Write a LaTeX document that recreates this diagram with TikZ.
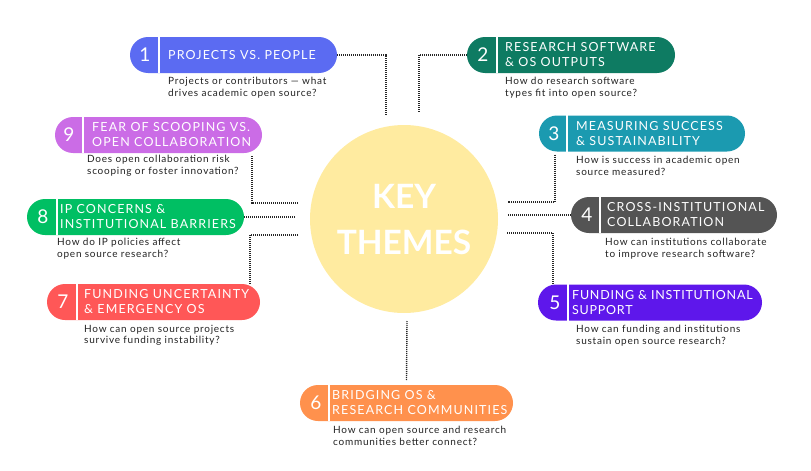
\documentclass[tikz,border=0pt]{standalone}
\usepackage{fontspec}
\setmainfont{Lato}
\newfontfamily\ttlfont[LetterSpace=9]{Lato}
\newfontfamily\ttlfontnarrow[LetterSpace=6]{Lato}
\newfontfamily\subfont[LetterSpace=7.5]{Lato}
\usetikzlibrary{calc}
\definecolor{cA}{HTML}{5B6BF2}
\definecolor{cB}{HTML}{0E7B62}
\definecolor{cC}{HTML}{1B9AB0}
\definecolor{cD}{HTML}{545454}
\definecolor{cE}{HTML}{5E17EB}
\definecolor{cF}{HTML}{FF914D}
\definecolor{cG}{HTML}{FF5757}
\definecolor{cH}{HTML}{00BF63}
\definecolor{cI}{HTML}{CB6CE6}
\definecolor{circ}{HTML}{FFEBA0}
\definecolor{subtxt}{HTML}{222222}
\tikzset{
  pill/.style={rectangle, rounded corners=18pt, minimum height=36pt, inner sep=0pt, draw=none},
  divider/.style={white, line width=1.6pt},
  num/.style={text=white, font=\fontsize{19}{19}\selectfont, inner sep=0pt},
  ttl/.style={text=white, font=\ttlfont\fontsize{12.5}{15}\selectfont, align=left, inner sep=0pt, anchor=west},
  ttlnarrow/.style={ttl, font=\ttlfontnarrow\fontsize{12.5}{15}\selectfont},
  sub/.style={text=subtxt, font=\subfont\fontsize{10}{11.5}\selectfont, align=left, inner sep=0pt, anchor=north west},
  conn/.style={line width=1.4pt, dash pattern=on 1pt off 1pt, black!85},
}
\begin{document}
\begin{tikzpicture}[x=1pt,y=-1pt]
\useasboundingbox (0,0) rectangle (811,471);
% centre
\node[circle, fill=circ, minimum size=188pt, inner sep=0pt] (hub) at (404,219) {};
\node[text=white, font=\bfseries\fontsize{33.5}{46}\selectfont, align=center] (hubtxt) at (404,220) {KEY\\THEMES};

% 1
\node[pill, fill=cA, minimum width=207pt] (p1) at (233.5,55) {};
\draw[divider] ([xshift=29pt]p1.north west) -- ([xshift=29pt]p1.south west);
\node[num] (n1) at ($(p1.west)+(15,0)$) {1};
\node[ttl] (t1) at (168,55) {PROJECTS VS. PEOPLE};
\node[sub] (s1) at (168,77) {Projects or contributors — what\\drives academic open source?};
% 2
\node[pill, fill=cB, minimum width=208pt] (p2) at (571,55) {};
\draw[divider] ([xshift=30pt]p2.north west) -- ([xshift=30pt]p2.south west);
\node[num] (n2) at ($(p2.west)+(16,0)$) {2};
\node[ttl] (t2) at (505,55) {RESEARCH SOFTWARE\\\& OS OUTPUTS};
\node[sub] (s2) at (505,77) {How do research software\\types fit into open source?};
% 9
\node[pill, fill=cI, minimum width=207pt] (p9) at (158.5,135) {};
\draw[divider] ([xshift=28pt]p9.north west) -- ([xshift=28pt]p9.south west);
\node[num] (n9) at ($(p9.west)+(14,0)$) {9};
\node[ttl] (t9) at (92,135) {FEAR OF SCOOPING VS.\\OPEN COLLABORATION};
\node[sub] (s9) at (87,155) {Does open collaboration risk\\scooping or foster innovation?};
% 3
\node[pill, fill=cC, minimum width=206pt] (p3) at (642,133.5) {};
\draw[divider] ([xshift=28pt]p3.north west) -- ([xshift=28pt]p3.south west);
\node[num] (n3) at ($(p3.west)+(15,0)$) {3};
\node[ttl] (t3) at (576,133.5) {MEASURING SUCCESS\\\& SUSTAINABILITY};
\node[sub] (s3) at (576,156) {How is success in academic open\\source measured?};
% 8
\node[pill, fill=cH, minimum width=217pt] (p8) at (135.5,217) {};
\draw[divider] ([xshift=30pt]p8.north west) -- ([xshift=30pt]p8.south west);
\node[num] (n8) at ($(p8.west)+(16,0)$) {8};
\node[ttl] (t8) at (60,217) {IP CONCERNS \&\\INSTITUTIONAL BARRIERS};
\node[sub] (s8) at (57,238) {How do IP policies affect\\open source research?};
% 4
\node[pill, fill=cD, minimum width=206pt] (p4) at (674,215) {};
\draw[divider] ([xshift=29pt]p4.north west) -- ([xshift=29pt]p4.south west);
\node[num] (n4) at ($(p4.west)+(16,0)$) {4};
\node[ttl] (t4) at (607,215) {CROSS-INSTITUTIONAL\\COLLABORATION};
\node[sub] (s4) at (605,238) {How can institutions collaborate\\to improve research software?};
% 7
\node[pill, fill=cG, minimum width=213pt] (p7) at (153.5,302) {};
\draw[divider] ([xshift=30pt]p7.north west) -- ([xshift=30pt]p7.south west);
\node[num] (n7) at ($(p7.west)+(16,0)$) {7};
\node[ttl] (t7) at (84,302) {FUNDING UNCERTAINTY\\\& EMERGENCY OS};
\node[sub] (s7) at (84,325) {How can open source projects\\survive funding instability?};
% 5
\node[pill, fill=cE, minimum width=224pt] (p5) at (650,302.5) {};
\draw[divider] ([xshift=30pt]p5.north west) -- ([xshift=30pt]p5.south west);
\node[num] (n5) at ($(p5.west)+(17,0)$) {5};
\node[ttlnarrow] (t5) at (572,302.5) {FUNDING \& INSTITUTIONAL\\SUPPORT};
\node[sub] (s5) at (576,325) {How can funding and institutions\\sustain open source research?};
% 6
\node[pill, fill=cF, minimum width=213pt] (p6) at (406.5,403) {};
\draw[divider] ([xshift=29pt]p6.north west) -- ([xshift=29pt]p6.south west);
\node[num] (n6) at ($(p6.west)+(16,0)$) {6};
\node[ttl] (t6) at (332,403) {BRIDGING OS \&\\RESEARCH COMMUNITIES};
\node[sub] (s6) at (333,426) {How can open source and research\\communities better connect?};

% connectors
\coordinate (c1) at (386,116);
\coordinate (c2) at (419,113);
\coordinate (k9) at (252,0);
\coordinate (c9) at (298,203);
\coordinate (c8) at (296,219);
\coordinate (c7) at (298,235);
\coordinate (k7) at (250,0);
\coordinate (k3) at (555,0);
\coordinate (c3) at (508,202);
\coordinate (c4) at (508,216);
\coordinate (c5) at (507,233);
\coordinate (k5) at (553,0);
\coordinate (c6) at (407,321);

\draw[conn] (p1.east) -| (c1);
\draw[conn] (p2.west) -| (c2);
\draw[conn] ([yshift=-3pt]p9.south -| k9) |- (c9);
\draw[conn] (p8.east) -- (c8 |- p8.east);
\draw[conn] (c7) -| (p7.north -| k7);
\draw[conn] ([yshift=-3pt]p3.south -| k3) |- (c3);
\draw[conn] (c4 |- p4.west) -- (p4.west);
\draw[conn] (c5) -| (p5.north -| k5);
\draw[conn] (c6) -- ([yshift=4pt]p6.north);
\end{tikzpicture}
\end{document}
